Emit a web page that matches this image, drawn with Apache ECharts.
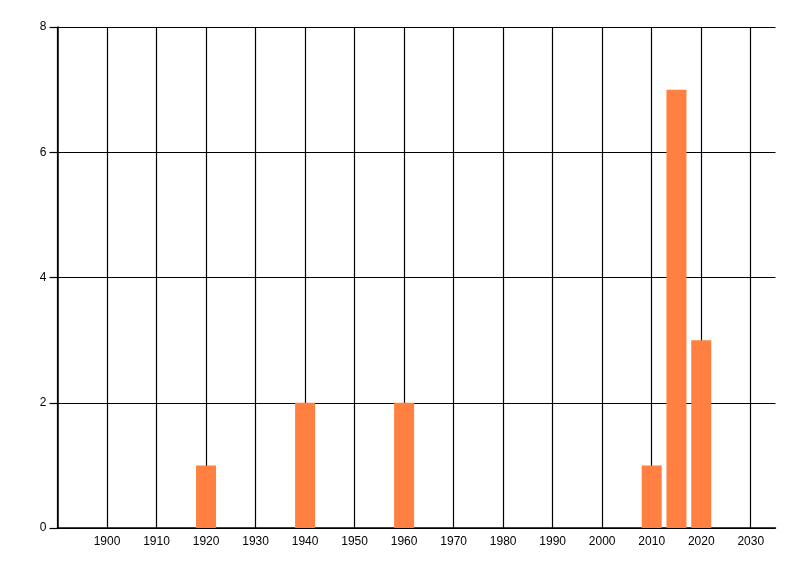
<!DOCTYPE html>
<html>
<head>
<meta charset="utf-8">
<script src="https://cdn.jsdelivr.net/npm/echarts@6/dist/echarts.min.js"></script>
<style>html,body{margin:0;padding:0;background:#fff;}#c{width:800px;height:576px;}</style>
</head>
<body>
<div id="c"></div>
<script>
var years = [1920, 1940, 1960, 2010, 2015, 2020];
var counts = [1, 2, 2, 1, 7, 3];
var yTicks = [0, 2, 4, 6, 8];

var chart = echarts.init(document.getElementById('c'), null, {renderer: 'canvas'});
var data = years.map(function (y, i) { return [y, counts[i]]; });
chart.setOption({
  animation: false,
  backgroundColor: '#ffffff',
  grid: {left: 57.5, right: 24.5, top: 27, bottom: 48, containLabel: false},
  xAxis: {
    type: 'value', min: 1890, max: 2035, interval: 10,
    axisLine: {show: true, onZero: false, lineStyle: {color: '#000', width: 1.5}},
    axisTick: {show: false},
    axisLabel: {color: '#000', fontFamily: 'Liberation Sans, Arial, sans-serif', fontSize: 12, margin: 8,
      showMaxLabel: false,
      formatter: function (v) { return (v === 1890 || v === 2035) ? '' : String(v); }},
    splitLine: {show: true, showMaxLine: false, lineStyle: {color: '#000', width: 1.2}}
  },
  yAxis: {
    type: 'value', min: yTicks[0], max: yTicks[yTicks.length - 1], interval: 2,
    axisLine: {show: true, lineStyle: {color: '#000', width: 1.5}},
    axisTick: {show: true, length: 8, lineStyle: {color: '#000', width: 1.2}},
    axisLabel: {color: '#000', fontFamily: 'Liberation Sans, Arial, sans-serif', fontSize: 12, margin: 11},
    splitLine: {show: true, lineStyle: {color: '#000', width: 1.2}}
  },
  series: [{
    type: 'bar',
    data: data,
    barWidth: 20,
    itemStyle: {color: '#FF8040'},
    z: 3
  }]
});
</script>
</body>
</html>
